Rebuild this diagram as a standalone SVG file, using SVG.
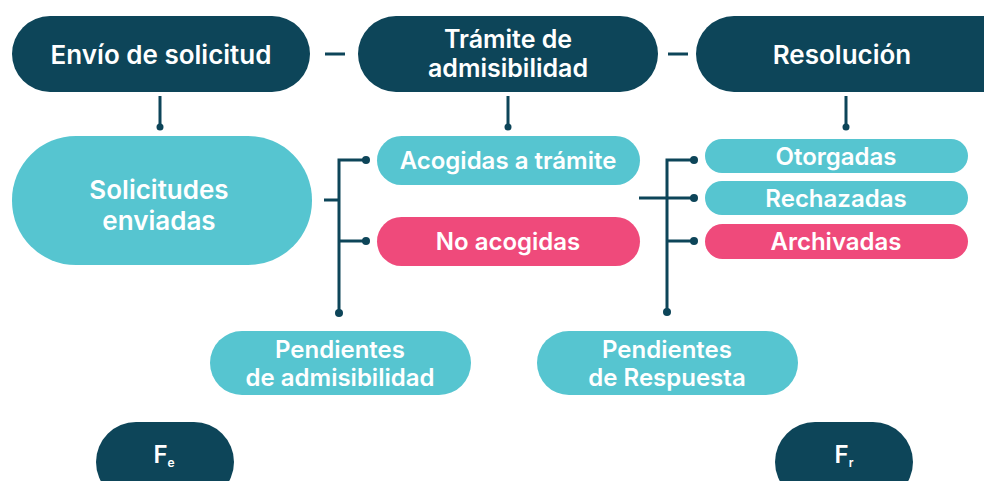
<svg xmlns="http://www.w3.org/2000/svg" width="984" height="481" viewBox="0 0 984 481">
<style>
.dark{fill:#0d4559}
.teal{fill:#56c5d0}
.pink{fill:#ef4a7b}
text{font-family:Inter,"Open Sans","Liberation Sans",sans-serif;font-weight:600;fill:#ffffff;text-anchor:middle;dominant-baseline:central}
.t26{font-size:26px}
.t25{font-size:25px}
.t24{font-size:24px}
.ln{stroke:#0d4559;stroke-width:3;fill:none}
.dot{fill:#0d4559}
</style>
<rect width="984" height="481" fill="#ffffff"/>
<g id="connectors">
<line class="ln" x1="325" y1="54" x2="345" y2="54"/>
<line class="ln" x1="668" y1="54" x2="688" y2="54"/>
<line class="ln" x1="160" y1="96" x2="160" y2="127"/><circle class="dot" cx="160" cy="127" r="3.5"/>
<line class="ln" x1="508" y1="96" x2="508" y2="127"/><circle class="dot" cx="508" cy="127" r="3.5"/>
<line class="ln" x1="846" y1="96" x2="846" y2="127"/><circle class="dot" cx="846" cy="127" r="3.5"/>
<polyline class="ln" points="324,200 339,200"/>
<polyline class="ln" points="366,160 339,160 339,313"/>
<line class="ln" x1="339" y1="241" x2="366" y2="241"/>
<circle class="dot" cx="366" cy="160" r="4"/><circle class="dot" cx="366" cy="241" r="4"/><circle class="dot" cx="339" cy="313" r="4"/>
<polyline class="ln" points="694,160 667,160 667,312"/>
<line class="ln" x1="639" y1="198" x2="694" y2="198"/>
<line class="ln" x1="667" y1="241" x2="694" y2="241"/>
<circle class="dot" cx="694" cy="160" r="4"/><circle class="dot" cx="694" cy="198" r="4"/><circle class="dot" cx="694" cy="241" r="4"/><circle class="dot" cx="667" cy="312" r="4"/>
</g>
<g id="envio"><rect class="dark" x="12" y="16" width="298" height="76" rx="38"/><text class="t26" x="161" y="54">Envío de solicitud</text></g>
<g id="tramite"><rect class="dark" x="358" y="16" width="300" height="76" rx="38"/><text class="t25" x="508" y="39">Trámite de</text><text class="t25" x="508" y="68">admisibilidad</text></g>
<g id="resolucion"><rect class="dark" x="696" y="16" width="330" height="76" rx="38"/><text class="t26" x="842" y="54">Resolución</text></g>
<g id="solicitudes"><rect class="teal" x="12" y="136" width="300" height="129" rx="64"/><text class="t26" x="159" y="189">Solicitudes</text><text class="t26" x="159" y="220">enviadas</text></g>
<g id="acogidas"><rect class="teal" x="377" y="136" width="263" height="49" rx="24.5"/><text class="t24" x="508" y="160">Acogidas a trámite</text></g>
<g id="noacogidas"><rect class="pink" x="377" y="217" width="263" height="49" rx="24.5"/><text class="t24" x="508" y="241">No acogidas</text></g>
<g id="otorgadas"><rect class="teal" x="705" y="139" width="263" height="34" rx="17"/><text class="t24" x="836" y="156">Otorgadas</text></g>
<g id="rechazadas"><rect class="teal" x="705" y="181" width="263" height="34" rx="17"/><text class="t24" x="836" y="198">Rechazadas</text></g>
<g id="archivadas"><rect class="pink" x="705" y="224" width="263" height="35" rx="17.5"/><text class="t24" x="836" y="241">Archivadas</text></g>
<g id="pend_adm"><rect class="teal" x="210" y="331" width="261" height="64" rx="32"/><text class="t24" x="340" y="349">Pendientes</text><text class="t24" x="340" y="377">de admisibilidad</text></g>
<g id="pend_resp"><rect class="teal" x="537" y="331" width="261" height="64" rx="32"/><text class="t24" x="667" y="349">Pendientes</text><text class="t24" x="667" y="377">de Respuesta</text></g>
<g id="fe"><rect class="dark" x="96" y="422" width="138" height="80" rx="40"/><text class="t24" x="164" y="454">F<tspan font-size="12" dy="8">e</tspan></text></g>
<g id="fr"><rect class="dark" x="775" y="422" width="138" height="80" rx="40"/><text class="t24" x="844" y="454">F<tspan font-size="12" dy="8">r</tspan></text></g>
</svg>
